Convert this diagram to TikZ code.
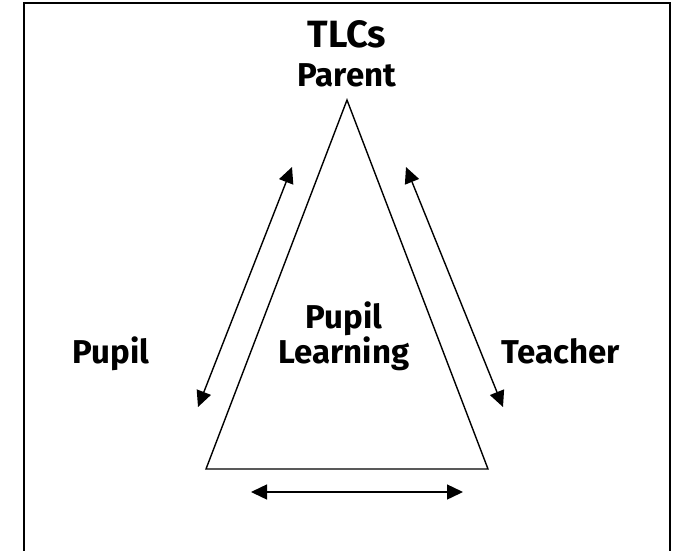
\documentclass[tikz,border=0pt]{standalone}
\usepackage{fontspec}
\setmainfont{Fira Sans}
\usetikzlibrary{arrows.meta}
\begin{document}
\begin{tikzpicture}[x=1pt,y=-1pt,
  lbl/.style={font=\fontsize{33}{35}\selectfont\bfseries, inner sep=0pt, align=center, anchor=base},
  dbl/.style={line width=1.4pt, {Triangle[length=16pt,width=15pt]}-{Triangle[length=16pt,width=15pt]}},
  tri/.style={line width=1.4pt, line join=miter}]
\useasboundingbox (0,0) rectangle (673,550);
\draw[line width=2.6pt] (24,560) -- (24,3) -- (670,3) -- (670,560);
\coordinate (A) at (347,100);
\coordinate (B) at (206,469);
\coordinate (C) at (488,469);
\draw[tri] (A) -- (B) -- (C) -- cycle;
\node[lbl, font=\fontsize{38}{40}\selectfont\bfseries] (tlc) at (347,47) {TLCs};
\node[lbl] (par) at (347,86) {Parent};
\node[lbl] (pup) at (111,363) {Pupil};
\node[lbl] (tea) at (561,363) {Teacher};
\node[lbl] (pl) at (344,363) {Pupil\\Learning};
\coordinate (l1) at (292,167);
\coordinate (l2) at (198,407);
\coordinate (r1) at (406,167);
\coordinate (r2) at (503,407);
\coordinate (b1) at (251,492);
\coordinate (b2) at (463,492);
\draw[dbl] (l1) -- (l2);
\draw[dbl] (r1) -- (r2);
\draw[dbl] (b1) -- (b2);
\end{tikzpicture}
\end{document}
